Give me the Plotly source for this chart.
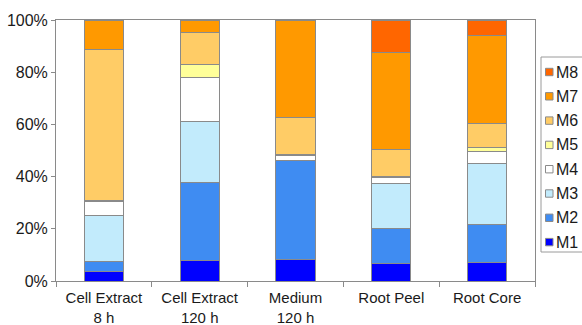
import plotly.graph_objects as go

# Sample categories (two-line tick labels)
categories = ["Cell Extract<br>8 h", "Cell Extract<br>120 h", "Medium<br>120 h",
              "Root Peel", "Root Core"]

# Percentage share of each metabolite per sample
m1 = [3.6, 7.8, 8.4, 6.8, 7.0]
m2 = [3.8, 29.9, 37.6, 13.5, 14.6]
m3 = [17.6, 23.6, 0.3, 17.1, 23.5]
m4 = [5.4, 16.6, 1.9, 2.1, 4.4]
m5 = [0.3, 5.2, 0.3, 0.5, 1.7]
m6 = [58.1, 12.2, 14.1, 10.3, 9.1]
m7 = [11.2, 4.7, 37.4, 37.2, 33.8]
m8 = [0.0, 0.0, 0.0, 12.5, 5.9]

series_names = ["M1", "M2", "M3", "M4", "M5", "M6", "M7", "M8"]
series_values = [m1, m2, m3, m4, m5, m6, m7, m8]
series_colors = ["#0000FF", "#3F8CF2", "#C2EBFC", "#FFFFFF",
                 "#FFFF99", "#FFCC66", "#FF9900", "#FF6600"]

W, H = 582, 325
ML, MR, MT, MB = 56, 47, 20, 44
plot_w = W - ML - MR
plot_h = H - MT - MB

FONT = "Liberation Sans, Arial, sans-serif"
axis_font = dict(family=FONT, size=16, color="#1a1a1a")
cat_font = dict(family=FONT, size=15, color="#1a1a1a")
edge = "#8a8a8a"

fig = go.Figure()
for name, vals, col in zip(series_names, series_values, series_colors):
    fig.add_trace(go.Bar(
        x=categories, y=vals, name=name, showlegend=False,
        marker=dict(color=col, line=dict(color=edge, width=1)),
    ))


def px_x(px):
    return (px - ML) / plot_w


def px_y(py):
    return (H - MB - py) / plot_h


# Framed legend at the right edge, top entry M8 down to M1
shapes = [dict(type="rect", xref="paper", yref="paper",
               x0=px_x(541), x1=px_x(620), y0=px_y(252), y1=px_y(57),
               line=dict(color="#9a9a9a", width=1), fillcolor="white", layer="above")]
annotations = []
row0, row_step = 72, 24.3
for i, (name, col) in enumerate(zip(series_names[::-1], series_colors[::-1])):
    cy = row0 + i * row_step
    shapes.append(dict(type="rect", xref="paper", yref="paper",
                       x0=px_x(545.5), x1=px_x(553), y0=px_y(cy + 3.7), y1=px_y(cy - 3.7),
                       line=dict(color="#8a8a8a", width=1), fillcolor=col, layer="above"))
    annotations.append(dict(xref="paper", yref="paper", x=px_x(554), y=px_y(cy),
                            xanchor="left", yanchor="middle", showarrow=False,
                            text=name, font=dict(family=FONT, size=16, color="#1a1a1a")))

fig.update_layout(
    width=W, height=H,
    barmode="stack", bargap=0.59,
    plot_bgcolor="white", paper_bgcolor="white",
    margin=dict(l=ML, r=MR, t=MT, b=MB, autoexpand=False),
    font=axis_font,
    showlegend=False,
    shapes=shapes, annotations=annotations,
    xaxis=dict(
        showline=True, linecolor=edge, linewidth=1, mirror=True,
        ticks="outside", tickson="boundaries", ticklen=5, tickcolor=edge,
        tickfont=cat_font, ticklabelstandoff=3,
    ),
    yaxis=dict(
        range=[0, 100], dtick=20, ticksuffix="%",
        showline=True, linecolor=edge, linewidth=1, mirror=True,
        ticks="outside", ticklen=4, tickcolor=edge,
        showgrid=False, zeroline=False, tickfont=axis_font,
    ),
)

fig.write_html("out.html")
